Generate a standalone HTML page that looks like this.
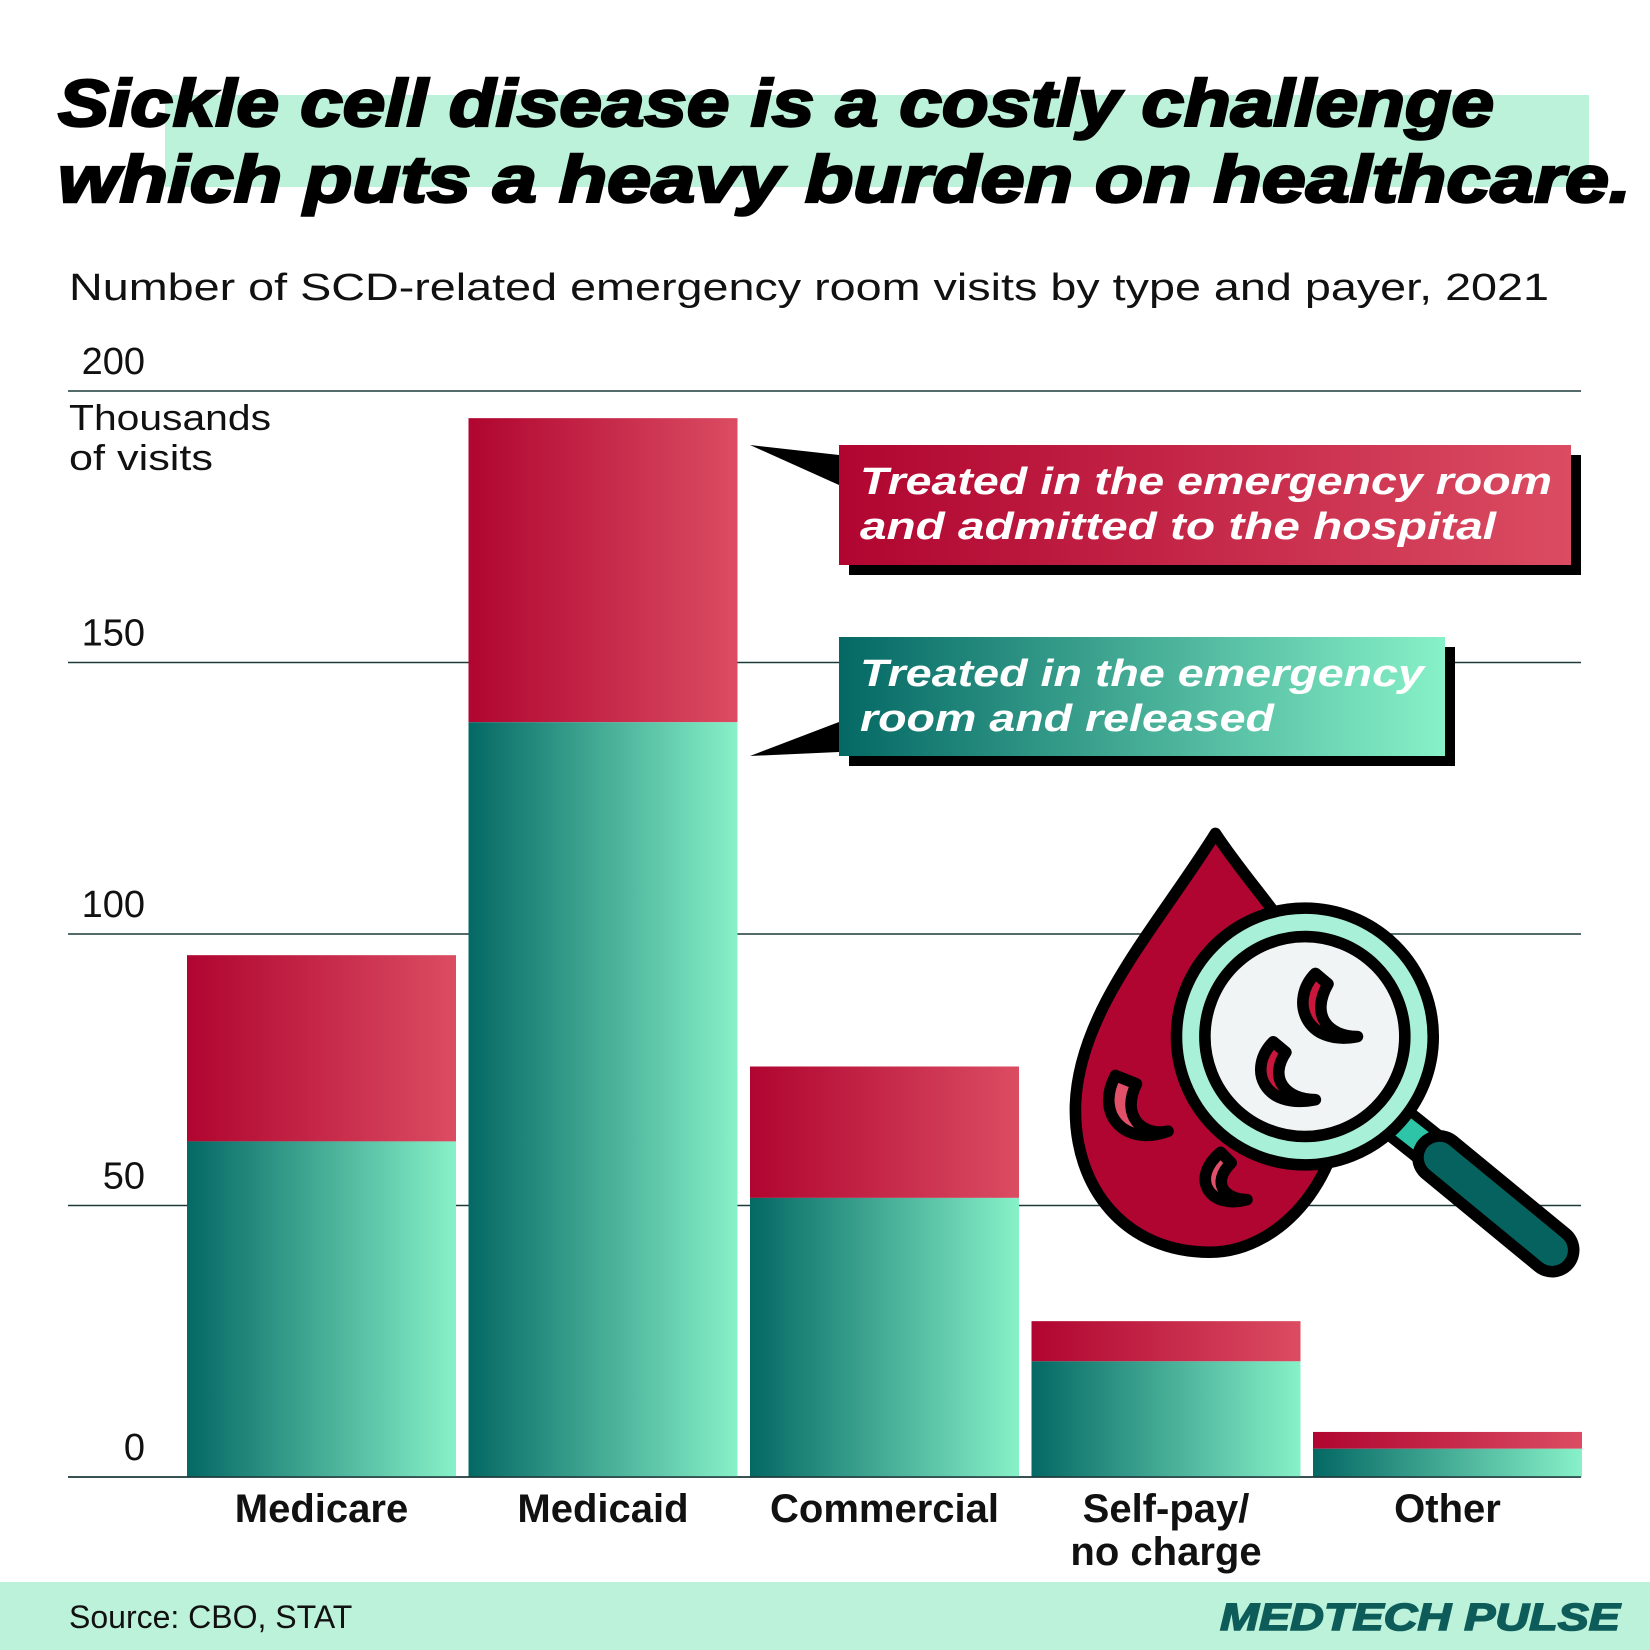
<!DOCTYPE html>
<html><head><meta charset="utf-8">
<style>
html,body{margin:0;padding:0;background:#fff;}
svg{display:block;}
text{font-family:"Liberation Sans",sans-serif;}
</style></head>
<body>
<svg id="chart" width="1650" height="1650" viewBox="0 0 1650 1650" xmlns="http://www.w3.org/2000/svg">
<defs>
<linearGradient id="gRed" x1="0" x2="1" y1="0" y2="0"><stop offset="0" stop-color="#b00530"/><stop offset="1" stop-color="#db4c62"/></linearGradient>
<linearGradient id="gGreen" x1="0" x2="1" y1="0" y2="0"><stop offset="0" stop-color="#046864"/><stop offset="1" stop-color="#87f1c8"/></linearGradient>
</defs>
<rect x="165" y="95" width="1424" height="92" fill="#bcf1da"/>
<text x="58" y="126" font-size="66" font-weight="bold" font-style="italic" fill="#000" stroke="#000" stroke-width="2.5" textLength="1436" lengthAdjust="spacingAndGlyphs">Sickle cell disease is a costly challenge</text>
<text x="58" y="202" font-size="66" font-weight="bold" font-style="italic" fill="#000" stroke="#000" stroke-width="2.5" textLength="1573" lengthAdjust="spacingAndGlyphs">which puts a heavy burden on healthcare.</text>
<text x="69" y="300" font-size="38" fill="#111" textLength="1480" lengthAdjust="spacingAndGlyphs">Number of SCD-related emergency room visits by type and payer, 2021</text>
<text x="69" y="430" font-size="36" fill="#111" textLength="202" lengthAdjust="spacingAndGlyphs">Thousands</text>
<text x="69" y="470" font-size="36" fill="#111" textLength="144" lengthAdjust="spacingAndGlyphs">of visits</text>
<g id="grid"></g>
<g id="bars"></g>
<g id="xlabels"></g>

<g>
<polygon points="750,445 839,455 839,485" fill="#000"/>
<rect x="849" y="455" width="732" height="120" fill="#000"/>
<rect x="839" y="445" width="732" height="120" fill="url(#gRed)"/>
<text x="860" y="494" font-size="38" font-weight="bold" font-style="italic" fill="#fff" textLength="692" lengthAdjust="spacingAndGlyphs">Treated in the emergency room</text>
<text x="860" y="539" font-size="38" font-weight="bold" font-style="italic" fill="#fff" textLength="636" lengthAdjust="spacingAndGlyphs">and admitted to the hospital</text>
</g>
<g>
<polygon points="750,756 839,722 839,752" fill="#000"/>
<rect x="849" y="647" width="606" height="119" fill="#000"/>
<rect x="839" y="637" width="606" height="119" fill="url(#gGreen)"/>
<text x="860" y="686" font-size="38" font-weight="bold" font-style="italic" fill="#fff" textLength="564" lengthAdjust="spacingAndGlyphs">Treated in the emergency</text>
<text x="860" y="731" font-size="38" font-weight="bold" font-style="italic" fill="#fff" textLength="414" lengthAdjust="spacingAndGlyphs">room and released</text>
</g>

<g transform="scale(1.0523)" stroke="#000" stroke-width="11" stroke-linejoin="round">
<path d="M1155,792 C1200,860 1260,910 1275,1000 C1290,1110 1220,1190 1150,1190 C1070,1190 1020,1130 1022,1050 C1025,960 1100,880 1155,792 Z" fill="#b00530"/>
<path d="M1060,1022 C1040,1060 1070,1090 1110,1075 C1085,1080 1065,1060 1080,1030 Z" fill="#e05068"/>
<path d="M1160,1095 C1130,1120 1150,1150 1185,1140 C1165,1140 1150,1125 1170,1105 Z" fill="#e05068"/>
<line x1="1320" y1="1060" x2="1360" y2="1092" stroke-width="40" stroke-linecap="butt"/>
<line x1="1322" y1="1062" x2="1358" y2="1090" stroke="#2ec4a8" stroke-width="22"/>
<line x1="1368" y1="1100" x2="1475" y2="1188" stroke-width="52" stroke-linecap="round"/>
<line x1="1368" y1="1100" x2="1475" y2="1188" stroke="#06625e" stroke-width="30" stroke-linecap="round"/>
<circle cx="1240" cy="985" r="122" fill="#a8f0d8"/>
<circle cx="1240" cy="985" r="95" fill="#f1f4f4"/>
<path d="M1250,925 C1225,950 1240,995 1290,985 C1262,985 1245,965 1262,935 Z" fill="#c8163c"/>
<path d="M1210,990 C1185,1015 1200,1055 1250,1045 C1222,1045 1205,1025 1222,1000 Z" fill="#c8163c"/>
</g>

<rect x="0" y="1582" width="1650" height="68" fill="#bcf1da"/>
<text x="69" y="1628" font-size="32" fill="#111">Source: CBO, STAT</text>
<text x="1620" y="1630" text-anchor="end" font-size="38" font-weight="bold" font-style="italic" fill="#0d5c5a" stroke="#0d5c5a" stroke-width="1.5" textLength="400" lengthAdjust="spacingAndGlyphs">MEDTECH PULSE</text>
</svg>
<script>
const categories = ["Medicare", "Medicaid", "Commercial", "Self-pay/|no charge", "Other"];
const released = [61.8, 139, 51.4, 21.3, 5.2];
const admitted = [34.3, 56, 24.2, 7.4, 3.1];
const yTicks = [0, 50, 100, 150, 200];

const NS = "http://www.w3.org/2000/svg";
const plotLeft = 68, plotRight = 1581, y0 = 1477, yTop = 391;
const barStart = 187, barStep = 281.5, barWidth = 269;
function yScale(v){ return y0 - (v / 200) * (y0 - yTop); }
function xScale(i){ return barStart + i * barStep; }
function mk(tag, attrs, parent){ const e = document.createElementNS(NS, tag); for (const k in attrs) e.setAttribute(k, attrs[k]); parent.appendChild(e); return e; }

const grid = document.getElementById('grid');
yTicks.forEach(t => {
  const y = yScale(t);
  const ln = mk('line', {x1: plotLeft, x2: plotRight, y1: y, y2: y, stroke: '#1d3a3a', 'stroke-width': 1.6}, grid);
  
  
  const tx = mk('text', {x: 145, y: y - 17, 'text-anchor': 'end', 'font-size': 38, fill: '#111'}, grid);
  tx.textContent = t;
  
  
});

const bars = document.getElementById('bars');
const xl = document.getElementById('xlabels');
categories.forEach((c, i) => {
  const x = xScale(i);
  const g = released[i], r = admitted[i];
  const rr = mk('rect', {x: x, width: barWidth, y: yScale(g + r), height: yScale(g) - yScale(g + r), fill: 'url(#gRed)'}, bars);
  
  
  const gr = mk('rect', {x: x, width: barWidth, y: yScale(g), height: y0 - yScale(g), fill: 'url(#gGreen)'}, bars);
  
  
  const lines = c.split('|');
  lines.forEach((l, j) => {
    const t = mk('text', {x: x + barWidth / 2, y: 1522 + j * 43, 'text-anchor': 'middle', 'font-size': 40, 'font-weight': 'bold', fill: '#111'}, xl);
    t.textContent = l;
    
    
  });
});
const axis = mk('line', {x1: plotLeft, x2: plotRight, y1: y0, y2: y0, stroke: '#1d3a3a', 'stroke-width': 1.6}, bars);


</script>
</body></html>
